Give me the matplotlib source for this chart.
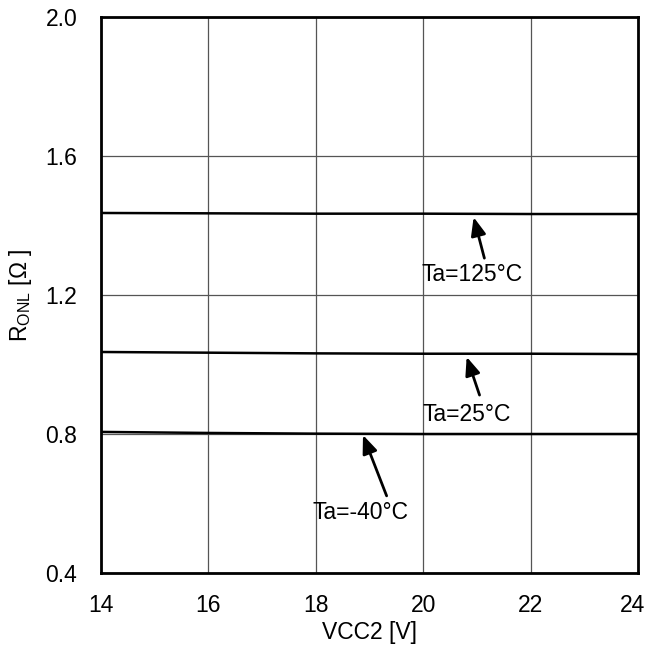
import numpy as np
import matplotlib.pyplot as plt
from matplotlib.transforms import ScaledTranslation

plt.rcParams['font.family'] = ['Liberation Sans', 'DejaVu Sans']
plt.rcParams['mathtext.fontset'] = 'custom'
plt.rcParams['mathtext.rm'] = 'Liberation Sans'

# data
vcc = [14, 16, 18, 20, 22, 24]
r_125 = [1.436, 1.435, 1.434, 1.434, 1.433, 1.433]
r_25 = [1.036, 1.034, 1.032, 1.031, 1.031, 1.030]
r_m40 = [0.806, 0.803, 0.801, 0.800, 0.800, 0.800]

labels = ['Ta=125°C', 'Ta=25°C', 'Ta=-40°C']
# (arrow head, arrow tail, text position) in data units
arrows = [((20.94, 1.424), (21.14, 1.306), (20.92, 1.258)),
          ((20.81, 1.022), (21.05, 0.912), (20.81, 0.856)),
          ((18.88, 0.797), (19.32, 0.622), (18.84, 0.574))]

fs = 16.5

fig = plt.figure(figsize=(6.51, 6.53), dpi=100)
ax = fig.add_axes([0.155, 0.1225, 0.825, 0.8515])

for ys in (r_125, r_25, r_m40):
    ax.plot(vcc, ys, color='black', lw=1.8, zorder=3)

for lab, (head, tail, txt) in zip(labels, arrows):
    ax.annotate('', xy=head, xytext=tail,
                arrowprops=dict(arrowstyle='-|>,head_length=1.1,head_width=0.45',
                                color='black', lw=2, shrinkA=0, shrinkB=0))
    ax.text(txt[0], txt[1], lab, ha='center', va='center', fontsize=fs)

ax.set_xlim(14, 24)
ax.set_ylim(0.4, 2.0)
ax.set_xticks([14, 16, 18, 20, 22, 24])
ax.set_yticks([0.4, 0.8, 1.2, 1.6, 2.0])
ax.set_yticklabels(['0.4', '0.8', '1.2', '1.6', '2.0'])
ax.grid(True, color='#555555', lw=0.9)
ax.tick_params(length=0, labelsize=fs)
ax.tick_params(axis='x', pad=15)
ax.tick_params(axis='y', pad=17)
for s in ax.spines.values():
    s.set_linewidth(2)
ax.set_xlabel('VCC2 [V]', fontsize=fs, labelpad=3)
ax.set_ylabel(r'R$_{\mathregular{ONL}}$ [Ω ]', fontsize=fs, labelpad=8)

# last x label sits a bit left of the corner, as in the original
last = ax.get_xticklabels()[-1]
last.set_transform(last.get_transform() + ScaledTranslation(-4 / 72, 0, fig.dpi_scale_trans))

fig.savefig('out.png', dpi=100)
